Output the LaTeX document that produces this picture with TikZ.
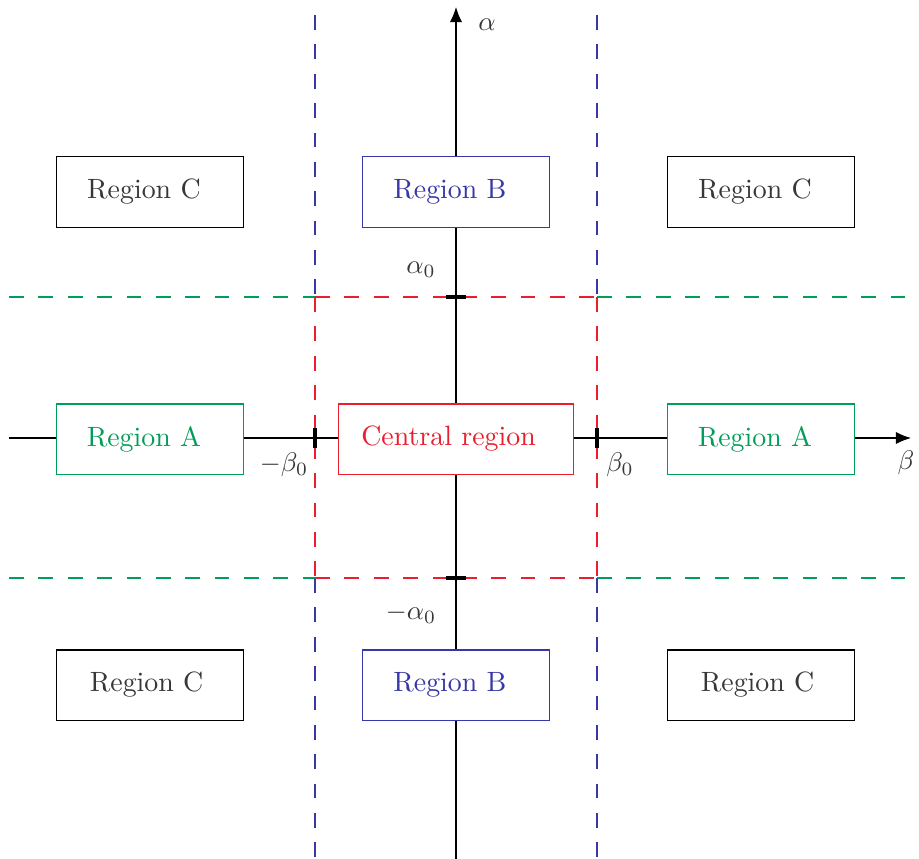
\documentclass[tikz,border=0pt]{standalone}
\usetikzlibrary{arrows.meta}
\definecolor{cgreen}{RGB}{0,158,88}
\definecolor{cred}{RGB}{235,30,45}
\definecolor{cblue}{RGB}{55,55,165}
\definecolor{ctext}{RGB}{55,55,55}
\begin{document}
\begin{tikzpicture}[x=0.371pt,y=-0.371pt,
  region/.style={draw,fill=white,line width=0.4pt,minimum width=69.7pt,minimum height=26pt,inner sep=0pt,text=ctext,font=\fontsize{10.35}{12}\selectfont},
  regc/.style={region,draw=black},
  rega/.style={region,draw=cgreen,text=cgreen},
  regb/.style={region,draw=cblue,text=cblue},
  regcen/.style={region,draw=cred,text=cred,minimum width=87.2pt},
  dsh/.style={dash pattern=on 5.5pt off 5.4pt,line width=0.45pt},
  axis/.style={line width=0.4pt,-{Latex[length=5.6pt,width=4.5pt]}},
  tick/.style={line width=1.2pt},
  lbl/.style={text=ctext,inner sep=0pt}]
\useasboundingbox (0,0) rectangle (919,859);
% axes
\coordinate (xl) at (9,438);
\coordinate (xr) at (911,438);
\coordinate (yb) at (456,859);
\coordinate (yt) at (456,7);
\draw[axis] (xl) -- (xr);
\draw[axis] (yb) -- (yt);
% dashed lines
\coordinate (bl1) at (315,15); \coordinate (bl2) at (315,297); \coordinate (bl3) at (315,578); \coordinate (bl4) at (315,859);
\coordinate (br1) at (597,15); \coordinate (br2) at (597,297); \coordinate (br3) at (597,578); \coordinate (br4) at (597,859);
\coordinate (gl1) at (9,297); \coordinate (gr1) at (905,297);
\coordinate (gl2) at (9,578); \coordinate (gr2) at (905,578);
\draw[dsh,cblue] (bl1) -- (bl2) (bl3) -- (bl4) (br1) -- (br2) (br3) -- (br4);
\draw[dsh,cgreen] (gl1) -- (bl2) (br2) -- (gr1) (gl2) -- (bl3) (br3) -- (gr2);
\draw[dsh,cred] (bl2) -- (bl3) (br2) -- (br3) (bl2) -- (br2) (bl3) -- (br3);
% ticks
\coordinate (ta) at (456,297); \coordinate (tma) at (456,578);
\coordinate (tb) at (597,438); \coordinate (tmb) at (315,438);
\draw[tick] ([xshift=-3.7pt]ta) -- ([xshift=3.7pt]ta);
\draw[tick] ([xshift=-3.7pt]tma) -- ([xshift=3.7pt]tma);
\draw[tick] ([yshift=-3.7pt]tb) -- ([yshift=3.7pt]tb);
\draw[tick] ([yshift=-3.7pt]tmb) -- ([yshift=3.7pt]tmb);
% boxes
\node[regc] (c1) at (150,192) {Region C\kern4.5pt};
\node[regb] (b1) at (456,192) {Region B\kern4.5pt};
\node[regc] (c2) at (761,192) {Region C\kern4.5pt};
\node[rega] (a1) at (150,439) {Region A\kern4.5pt};
\node[regcen] (cen) at (456,439) {Central region\kern5.5pt};
\node[rega] (a2) at (761,439) {Region A\kern4.5pt};
\node[regc] (c3) at (150,685) {Region C\kern2.5pt};
\node[regb] (b2) at (456,685) {Region B\kern4.5pt};
\node[regc] (c4) at (761,685) {Region C\kern2.5pt};
% labels
\node[lbl] (la) at (487,25) {$\alpha$};
\node[lbl] (la0) at (421,270) {$\alpha_0$};
\node[lbl] (lma0) at (411,614) {$-\alpha_0$};
\node[lbl] (lmb0) at (284,465) {$-\beta_0$};
\node[lbl] (lb0) at (620,465) {$\beta_0$};
\node[lbl] (lb) at (906,463) {$\beta$};
\end{tikzpicture}
\end{document}
